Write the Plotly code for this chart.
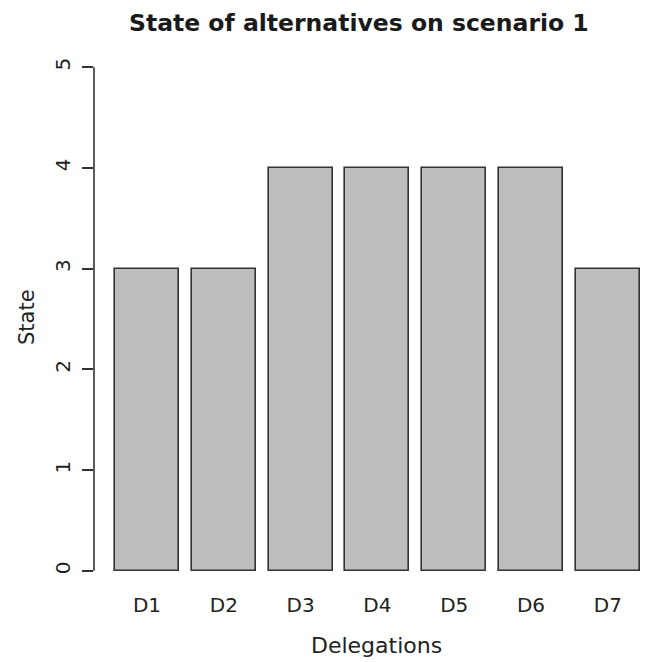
import plotly.graph_objects as go

# Data
delegations = ["D1", "D2", "D3", "D4", "D5", "D6", "D7"]
states = [3, 3, 4, 4, 4, 4, 3]
y_ticks = [0, 1, 2, 3, 4, 5]

# Bar layout like R's barplot: width 1, space 0.2
bar_width = 1.0
space = 0.2
centers = [space + bar_width / 2 + i * (bar_width + space) for i in range(len(delegations))]

W, H = 646, 662
ML, MR, MT, MB = 94, 0, 47, 71
PW, PH = W - ML - MR, H - MT - MB

FONT = "DejaVu Sans"
INK = "#222222"


def px_to_paper(px, py):
    return (px - ML) / PW, (H - MB - py) / PH


fig = go.Figure()
fig.add_trace(go.Bar(
    x=centers,
    y=states,
    width=bar_width,
    marker=dict(color="#bebebe", line=dict(color="#333333", width=1.6)),
    hoverinfo="skip",
))

# y axis line spanning only the tick range
fig.add_shape(type="line", xref="paper", yref="y",
              x0=0, x1=0, y0=y_ticks[0], y1=y_ticks[-1],
              line=dict(color="#333333", width=1.6))

tx, ty = px_to_paper(359, 23)
sx, sy = px_to_paper(27, 317)
dx, dy = px_to_paper(376, 645)
fig.add_annotation(text="<b>State of alternatives on scenario 1</b>", x=tx, y=ty,
                   xref="paper", yref="paper", showarrow=False,
                   font=dict(family=FONT, size=23.5, color="#1a1a1a"),
                   xanchor="center", yanchor="middle")
fig.add_annotation(text="State", x=sx, y=sy, xref="paper", yref="paper",
                   showarrow=False, textangle=-90,
                   font=dict(family=FONT, size=21, color=INK),
                   xanchor="center", yanchor="middle")
fig.add_annotation(text="Delegations", x=dx, y=dy, xref="paper", yref="paper",
                   showarrow=False,
                   font=dict(family=FONT, size=22, color=INK),
                   xanchor="center", yanchor="middle")

# R-style 4% expansion on the left; right side runs to the page edge
x_lo = space - 0.04 * (centers[-1] + bar_width / 2 - space)
x_hi = x_lo + PW / 64.0

fig.update_layout(
    width=W, height=H,
    margin=dict(l=ML, r=MR, t=MT, b=MB, pad=0),
    plot_bgcolor="white", paper_bgcolor="white",
    showlegend=False,
    bargap=0,
    xaxis=dict(range=[x_lo, x_hi], tickvals=centers, ticktext=delegations,
               showgrid=False, zeroline=False, showline=False, ticks="",
               tickfont=dict(family=FONT, size=20, color=INK), fixedrange=True),
    yaxis=dict(range=[-0.2, 5.2], tickvals=y_ticks, ticktext=[str(v) for v in y_ticks],
               showgrid=False, zeroline=False, showline=False,
               ticks="outside", ticklen=11, tickwidth=1.6, tickcolor="#333333",
               tickangle=-90, ticklabelstandoff=4,
               tickfont=dict(family=FONT, size=20, color=INK), fixedrange=True),
)

fig.write_html("out.html")
